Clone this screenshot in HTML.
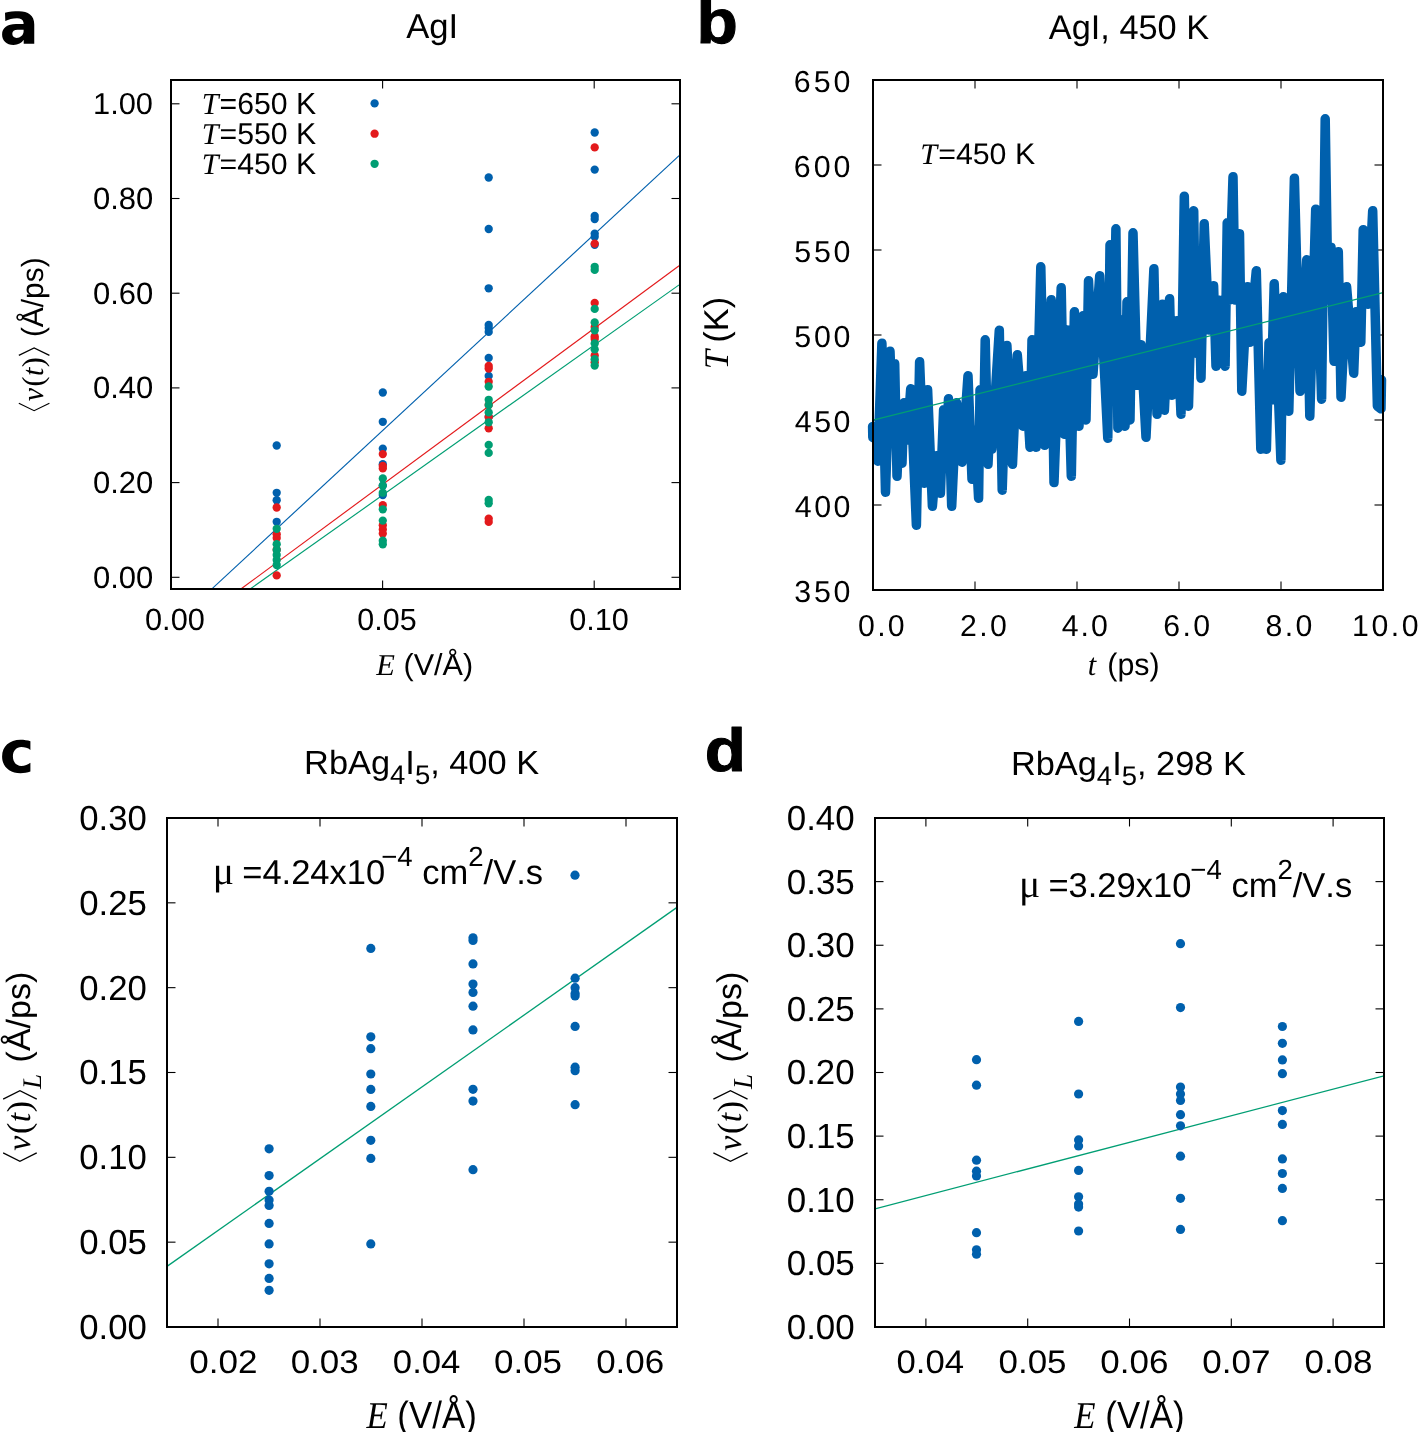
<!DOCTYPE html><html><head><meta charset="utf-8"><style>html,body{margin:0;padding:0;background:#fff;overflow:hidden}svg{display:block;will-change:transform}</style></head><body>
<svg width="1419" height="1432" viewBox="0 0 1419 1432" text-rendering="geometricPrecision">
<rect width="1419" height="1432" fill="#fff"/>
<path fill-rule="evenodd" fill="#000" d="M5.0,12.7 C9.0,11.7 14.0,11.3 19.0,11.3 C28.0,11.3 34.25,15.5 34.25,24.5 L34.25,43.8 L23.7,43.8 L23.7,39.7 C21.8,42.9 18.0,44.9 13.5,44.9 C6.5,44.9 2.1,40.8 2.1,34.5 C2.1,27.8 7.5,24.0 16.0,24.0 L23.6,23.9 L23.5,22.5 C23.0,19.5 20.5,18.3 17.0,18.3 C12.5,18.3 8.5,19.5 5.3,21.0 Z M23.6,29.8 L17.5,29.8 C14.3,29.8 12.3,31.3 12.3,33.8 C12.3,36.3 14.1,37.9 16.6,37.9 C20.2,37.9 23.5,35.2 23.6,31.5 Z"/>
<path fill="#000" d="M30.4,741.3 C27.5,740.3 24.0,739.8 20.5,739.8 C9.5,739.8 2.1,746.5 2.1,756.5 C2.1,766.5 9.5,773.2 20.5,773.2 C24.0,773.2 27.5,772.6 30.4,771.6 L30.4,762.8 C28.0,764.8 24.8,765.9 21.3,765.9 C16.3,765.9 12.9,762.0 12.9,756.5 C12.9,751.0 16.3,747.1 21.3,747.1 C24.8,747.1 28.0,748.1 30.4,749.9 Z"/>
<g transform="translate(704.83,771.21) scale(1.1245,1.0122)" fill="#000" stroke="#000" stroke-width="1.0" stroke-linejoin="round"><text x="0.00" y="0.00" style="white-space:pre;font-family:'Liberation Sans',sans-serif;font-style:normal;font-weight:bold;font-size:60.00px;font-kerning:none">d</text></g>
<g transform="translate(696.54,43.09) scale(1.1279,1.0372)" fill="#000" stroke="#000" stroke-width="1.0" stroke-linejoin="round"><text x="0.00" y="0.00" style="white-space:pre;font-family:'Liberation Sans',sans-serif;font-style:normal;font-weight:bold;font-size:60.00px;font-kerning:none">b</text></g>
<clipPath id="ca"><rect x="171" y="80" width="509" height="509"/></clipPath>
<g clip-path="url(#ca)">
<line x1="211.90" y1="588.80" x2="679.10" y2="155.70" stroke="#0060ad" stroke-width="1.15"/>
<line x1="241.20" y1="588.80" x2="679.10" y2="265.80" stroke="#e31a1c" stroke-width="1.15"/>
<line x1="250.50" y1="588.80" x2="679.10" y2="284.90" stroke="#009e73" stroke-width="1.15"/>
</g>
<circle cx="276.7" cy="445.5" r="4.15" fill="#0060ad"/>
<circle cx="276.7" cy="492.8" r="4.15" fill="#0060ad"/>
<circle cx="276.7" cy="500.2" r="4.15" fill="#0060ad"/>
<circle cx="276.7" cy="521.8" r="4.15" fill="#0060ad"/>
<circle cx="382.8" cy="392.5" r="4.15" fill="#0060ad"/>
<circle cx="382.8" cy="421.8" r="4.15" fill="#0060ad"/>
<circle cx="382.8" cy="448.6" r="4.15" fill="#0060ad"/>
<circle cx="382.8" cy="464.2" r="4.15" fill="#0060ad"/>
<circle cx="382.8" cy="485.6" r="4.15" fill="#0060ad"/>
<circle cx="382.8" cy="495.0" r="4.15" fill="#0060ad"/>
<circle cx="488.7" cy="177.5" r="4.15" fill="#0060ad"/>
<circle cx="488.7" cy="229.0" r="4.15" fill="#0060ad"/>
<circle cx="488.7" cy="288.3" r="4.15" fill="#0060ad"/>
<circle cx="488.7" cy="325.0" r="4.15" fill="#0060ad"/>
<circle cx="488.7" cy="328.1" r="4.15" fill="#0060ad"/>
<circle cx="488.7" cy="331.9" r="4.15" fill="#0060ad"/>
<circle cx="488.7" cy="357.9" r="4.15" fill="#0060ad"/>
<circle cx="488.7" cy="375.9" r="4.15" fill="#0060ad"/>
<circle cx="488.7" cy="417.0" r="4.15" fill="#0060ad"/>
<circle cx="594.7" cy="132.5" r="4.15" fill="#0060ad"/>
<circle cx="594.7" cy="169.6" r="4.15" fill="#0060ad"/>
<circle cx="594.7" cy="216.0" r="4.15" fill="#0060ad"/>
<circle cx="594.7" cy="219.1" r="4.15" fill="#0060ad"/>
<circle cx="594.7" cy="233.6" r="4.15" fill="#0060ad"/>
<circle cx="594.7" cy="236.7" r="4.15" fill="#0060ad"/>
<circle cx="594.7" cy="244.8" r="4.15" fill="#0060ad"/>
<circle cx="276.7" cy="507.5" r="4.15" fill="#e31a1c"/>
<circle cx="276.7" cy="534.3" r="4.15" fill="#e31a1c"/>
<circle cx="276.7" cy="538.0" r="4.15" fill="#e31a1c"/>
<circle cx="276.7" cy="549.7" r="4.15" fill="#e31a1c"/>
<circle cx="276.7" cy="575.4" r="4.15" fill="#e31a1c"/>
<circle cx="382.8" cy="454.1" r="4.15" fill="#e31a1c"/>
<circle cx="382.8" cy="466.0" r="4.15" fill="#e31a1c"/>
<circle cx="382.8" cy="468.4" r="4.15" fill="#e31a1c"/>
<circle cx="382.8" cy="505.1" r="4.15" fill="#e31a1c"/>
<circle cx="382.8" cy="525.3" r="4.15" fill="#e31a1c"/>
<circle cx="382.8" cy="529.5" r="4.15" fill="#e31a1c"/>
<circle cx="382.8" cy="533.6" r="4.15" fill="#e31a1c"/>
<circle cx="488.7" cy="365.9" r="4.15" fill="#e31a1c"/>
<circle cx="488.7" cy="368.6" r="4.15" fill="#e31a1c"/>
<circle cx="488.7" cy="381.8" r="4.15" fill="#e31a1c"/>
<circle cx="488.7" cy="405.0" r="4.15" fill="#e31a1c"/>
<circle cx="488.7" cy="417.0" r="4.15" fill="#e31a1c"/>
<circle cx="488.7" cy="428.3" r="4.15" fill="#e31a1c"/>
<circle cx="488.7" cy="518.6" r="4.15" fill="#e31a1c"/>
<circle cx="488.7" cy="521.9" r="4.15" fill="#e31a1c"/>
<circle cx="594.7" cy="147.4" r="4.15" fill="#e31a1c"/>
<circle cx="594.7" cy="243.6" r="4.15" fill="#e31a1c"/>
<circle cx="594.7" cy="302.9" r="4.15" fill="#e31a1c"/>
<circle cx="594.7" cy="327.1" r="4.15" fill="#e31a1c"/>
<circle cx="594.7" cy="336.5" r="4.15" fill="#e31a1c"/>
<circle cx="594.7" cy="339.0" r="4.15" fill="#e31a1c"/>
<circle cx="594.7" cy="355.4" r="4.15" fill="#e31a1c"/>
<circle cx="594.7" cy="362.3" r="4.15" fill="#e31a1c"/>
<circle cx="276.7" cy="528.8" r="4.15" fill="#009e73"/>
<circle cx="276.7" cy="544.2" r="4.15" fill="#009e73"/>
<circle cx="276.7" cy="550.0" r="4.15" fill="#009e73"/>
<circle cx="276.7" cy="555.0" r="4.15" fill="#009e73"/>
<circle cx="276.7" cy="560.0" r="4.15" fill="#009e73"/>
<circle cx="276.7" cy="565.0" r="4.15" fill="#009e73"/>
<circle cx="382.8" cy="478.5" r="4.15" fill="#009e73"/>
<circle cx="382.8" cy="485.6" r="4.15" fill="#009e73"/>
<circle cx="382.8" cy="492.7" r="4.15" fill="#009e73"/>
<circle cx="382.8" cy="509.3" r="4.15" fill="#009e73"/>
<circle cx="382.8" cy="520.6" r="4.15" fill="#009e73"/>
<circle cx="382.8" cy="540.7" r="4.15" fill="#009e73"/>
<circle cx="382.8" cy="544.3" r="4.15" fill="#009e73"/>
<circle cx="488.7" cy="386.5" r="4.15" fill="#009e73"/>
<circle cx="488.7" cy="399.8" r="4.15" fill="#009e73"/>
<circle cx="488.7" cy="405.1" r="4.15" fill="#009e73"/>
<circle cx="488.7" cy="412.4" r="4.15" fill="#009e73"/>
<circle cx="488.7" cy="422.3" r="4.15" fill="#009e73"/>
<circle cx="488.7" cy="444.9" r="4.15" fill="#009e73"/>
<circle cx="488.7" cy="452.9" r="4.15" fill="#009e73"/>
<circle cx="488.7" cy="500.0" r="4.15" fill="#009e73"/>
<circle cx="488.7" cy="503.3" r="4.15" fill="#009e73"/>
<circle cx="594.7" cy="266.8" r="4.15" fill="#009e73"/>
<circle cx="594.7" cy="269.9" r="4.15" fill="#009e73"/>
<circle cx="594.7" cy="308.9" r="4.15" fill="#009e73"/>
<circle cx="594.7" cy="322.4" r="4.15" fill="#009e73"/>
<circle cx="594.7" cy="330.3" r="4.15" fill="#009e73"/>
<circle cx="594.7" cy="343.5" r="4.15" fill="#009e73"/>
<circle cx="594.7" cy="349.4" r="4.15" fill="#009e73"/>
<circle cx="594.7" cy="359.2" r="4.15" fill="#009e73"/>
<circle cx="594.7" cy="365.5" r="4.15" fill="#009e73"/>
<circle cx="374.6" cy="103.4" r="4.15" fill="#0060ad"/>
<circle cx="374.6" cy="133.7" r="4.15" fill="#e31a1c"/>
<circle cx="374.6" cy="163.8" r="4.15" fill="#009e73"/>
<rect x="171" y="80" width="509" height="509" fill="none" stroke="#000" stroke-width="2"/>
<line x1="171.00" y1="577.30" x2="179.50" y2="577.30" stroke="#000" stroke-width="1.1"/>
<line x1="671.50" y1="577.30" x2="680.00" y2="577.30" stroke="#000" stroke-width="1.1"/>
<line x1="171.00" y1="482.60" x2="179.50" y2="482.60" stroke="#000" stroke-width="1.1"/>
<line x1="671.50" y1="482.60" x2="680.00" y2="482.60" stroke="#000" stroke-width="1.1"/>
<line x1="171.00" y1="387.90" x2="179.50" y2="387.90" stroke="#000" stroke-width="1.1"/>
<line x1="671.50" y1="387.90" x2="680.00" y2="387.90" stroke="#000" stroke-width="1.1"/>
<line x1="171.00" y1="293.20" x2="179.50" y2="293.20" stroke="#000" stroke-width="1.1"/>
<line x1="671.50" y1="293.20" x2="680.00" y2="293.20" stroke="#000" stroke-width="1.1"/>
<line x1="171.00" y1="198.50" x2="179.50" y2="198.50" stroke="#000" stroke-width="1.1"/>
<line x1="671.50" y1="198.50" x2="680.00" y2="198.50" stroke="#000" stroke-width="1.1"/>
<line x1="171.00" y1="103.80" x2="179.50" y2="103.80" stroke="#000" stroke-width="1.1"/>
<line x1="671.50" y1="103.80" x2="680.00" y2="103.80" stroke="#000" stroke-width="1.1"/>
<line x1="382.60" y1="589.00" x2="382.60" y2="580.50" stroke="#000" stroke-width="1.1"/>
<line x1="382.60" y1="80.00" x2="382.60" y2="88.50" stroke="#000" stroke-width="1.1"/>
<line x1="594.20" y1="589.00" x2="594.20" y2="580.50" stroke="#000" stroke-width="1.1"/>
<line x1="594.20" y1="80.00" x2="594.20" y2="88.50" stroke="#000" stroke-width="1.1"/>
<g transform="translate(92.89,208.80) scale(1.0331,1.0264)" fill="#000" ><text x="0.00" y="0.00" style="white-space:pre;font-family:'Liberation Sans',sans-serif;font-style:normal;font-weight:normal;font-size:30.00px;font-kerning:none">0.80</text></g>
<g transform="translate(92.89,303.50) scale(1.0331,1.0264)" fill="#000" ><text x="0.00" y="0.00" style="white-space:pre;font-family:'Liberation Sans',sans-serif;font-style:normal;font-weight:normal;font-size:30.00px;font-kerning:none">0.60</text></g>
<g transform="translate(92.89,398.20) scale(1.0331,1.0264)" fill="#000" ><text x="0.00" y="0.00" style="white-space:pre;font-family:'Liberation Sans',sans-serif;font-style:normal;font-weight:normal;font-size:30.00px;font-kerning:none">0.40</text></g>
<g transform="translate(92.89,492.90) scale(1.0331,1.0264)" fill="#000" ><text x="0.00" y="0.00" style="white-space:pre;font-family:'Liberation Sans',sans-serif;font-style:normal;font-weight:normal;font-size:30.00px;font-kerning:none">0.20</text></g>
<g transform="translate(92.89,587.60) scale(1.0331,1.0264)" fill="#000" ><text x="0.00" y="0.00" style="white-space:pre;font-family:'Liberation Sans',sans-serif;font-style:normal;font-weight:normal;font-size:30.00px;font-kerning:none">0.00</text></g>
<g transform="translate(93.05,114.00) scale(1.0267,1.0075)" fill="#000" ><text x="0.00" y="0.00" style="white-space:pre;font-family:'Liberation Sans',sans-serif;font-style:normal;font-weight:normal;font-size:30.00px;font-kerning:none">1.00</text></g>
<g transform="translate(145.00,629.70) scale(1.0242,1.0216)" fill="#000" ><text x="0.00" y="0.00" style="white-space:pre;font-family:'Liberation Sans',sans-serif;font-style:normal;font-weight:normal;font-size:30.00px;font-kerning:none">0.00</text></g>
<g transform="translate(357.31,629.70) scale(1.0151,1.0216)" fill="#000" ><text x="0.00" y="0.00" style="white-space:pre;font-family:'Liberation Sans',sans-serif;font-style:normal;font-weight:normal;font-size:30.00px;font-kerning:none">0.05</text></g>
<g transform="translate(569.20,629.70) scale(1.0206,1.0216)" fill="#000" ><text x="0.00" y="0.00" style="white-space:pre;font-family:'Liberation Sans',sans-serif;font-style:normal;font-weight:normal;font-size:30.00px;font-kerning:none">0.10</text></g>
<g transform="translate(406.23,38.12) scale(1.0491,1.0490)" fill="#000" ><text x="0.00" y="0.00" style="white-space:pre;font-family:'Liberation Sans',sans-serif;font-style:normal;font-weight:normal;font-size:33.00px;font-kerning:none">AgI</text></g>
<g transform="translate(201.72,113.60) scale(1.0081,1.0169)" fill="#000" ><text x="0.00" y="0.00" style="white-space:pre;font-family:'Liberation Serif',serif;font-style:italic;font-weight:normal;font-size:30.00px;font-kerning:none">T</text><text x="17.68" y="0.00" style="white-space:pre;font-family:'Liberation Sans',sans-serif;font-style:normal;font-weight:normal;font-size:30.00px;font-kerning:none">=650 K</text></g>
<g transform="translate(201.72,143.80) scale(1.0081,1.0122)" fill="#000" ><text x="0.00" y="0.00" style="white-space:pre;font-family:'Liberation Serif',serif;font-style:italic;font-weight:normal;font-size:30.00px;font-kerning:none">T</text><text x="17.68" y="0.00" style="white-space:pre;font-family:'Liberation Sans',sans-serif;font-style:normal;font-weight:normal;font-size:30.00px;font-kerning:none">=550 K</text></g>
<g transform="translate(201.72,174.01) scale(1.0081,0.9887)" fill="#000" ><text x="0.00" y="0.00" style="white-space:pre;font-family:'Liberation Serif',serif;font-style:italic;font-weight:normal;font-size:30.00px;font-kerning:none">T</text><text x="17.68" y="0.00" style="white-space:pre;font-family:'Liberation Sans',sans-serif;font-style:normal;font-weight:normal;font-size:30.00px;font-kerning:none">=450 K</text></g>
<g transform="translate(376.36,675.25) scale(1.0183,1.0066)" fill="#000" ><text x="0.00" y="0.00" style="white-space:pre;font-family:'Liberation Serif',serif;font-style:italic;font-weight:normal;font-size:30.00px;font-kerning:none">E</text><text x="18.33" y="0.00" style="white-space:pre;font-family:'Liberation Sans',sans-serif;font-style:normal;font-weight:normal;font-size:30.00px;font-kerning:none"> (V/Å)</text></g>
<g transform="translate(43.29,411.10) rotate(-90) scale(0.9966,1.0195)" fill="#000" ><path transform="translate(0.00,0)" d="M7.80,-24.00 L0.4,-9.00 L7.80,6.00" fill="none" stroke="#000" stroke-width="1.20"/><text x="9.90" y="0.00" style="white-space:pre;font-family:'Liberation Serif',serif;font-style:italic;font-weight:normal;font-size:30.00px;font-kerning:none">v</text><text x="24.72" y="0.00" style="white-space:pre;font-family:'Liberation Serif',serif;font-style:normal;font-weight:normal;font-size:30.00px;font-kerning:none">(</text><text x="35.21" y="0.00" style="white-space:pre;font-family:'Liberation Serif',serif;font-style:italic;font-weight:normal;font-size:30.00px;font-kerning:none">t</text><text x="44.04" y="0.00" style="white-space:pre;font-family:'Liberation Serif',serif;font-style:normal;font-weight:normal;font-size:30.00px;font-kerning:none">)</text><path transform="translate(55.53,0)" d="M0.4,-24.00 L7.80,-9.00 L0.4,6.00" fill="none" stroke="#000" stroke-width="1.20"/><text x="65.93" y="0.00" style="white-space:pre;font-family:'Liberation Sans',sans-serif;font-style:normal;font-weight:normal;font-size:30.00px;font-kerning:none"> (Å/ps)</text></g>
<g transform="translate(793.86,91.70) scale(1.0122,1.0122)" fill="#000" ><text x="0.00" y="0.00" style="white-space:pre;font-family:'Liberation Sans',sans-serif;font-style:normal;font-weight:normal;font-size:30.00px;font-kerning:none;letter-spacing:2.945px">650</text></g>
<g transform="translate(793.86,176.70) scale(1.0122,1.0122)" fill="#000" ><text x="0.00" y="0.00" style="white-space:pre;font-family:'Liberation Sans',sans-serif;font-style:normal;font-weight:normal;font-size:30.00px;font-kerning:none;letter-spacing:2.945px">600</text></g>
<g transform="translate(794.18,261.70) scale(1.0122,1.0122)" fill="#000" ><text x="0.00" y="0.00" style="white-space:pre;font-family:'Liberation Sans',sans-serif;font-style:normal;font-weight:normal;font-size:30.00px;font-kerning:none;letter-spacing:2.784px">550</text></g>
<g transform="translate(794.18,346.70) scale(1.0122,1.0122)" fill="#000" ><text x="0.00" y="0.00" style="white-space:pre;font-family:'Liberation Sans',sans-serif;font-style:normal;font-weight:normal;font-size:30.00px;font-kerning:none;letter-spacing:2.784px">500</text></g>
<g transform="translate(794.70,431.70) scale(1.0122,1.0122)" fill="#000" ><text x="0.00" y="0.00" style="white-space:pre;font-family:'Liberation Sans',sans-serif;font-style:normal;font-weight:normal;font-size:30.00px;font-kerning:none;letter-spacing:2.528px">450</text></g>
<g transform="translate(794.70,516.70) scale(1.0122,1.0122)" fill="#000" ><text x="0.00" y="0.00" style="white-space:pre;font-family:'Liberation Sans',sans-serif;font-style:normal;font-weight:normal;font-size:30.00px;font-kerning:none;letter-spacing:2.528px">400</text></g>
<g transform="translate(794.24,601.70) scale(1.0122,1.0122)" fill="#000" ><text x="0.00" y="0.00" style="white-space:pre;font-family:'Liberation Sans',sans-serif;font-style:normal;font-weight:normal;font-size:30.00px;font-kerning:none;letter-spacing:2.755px">350</text></g>
<g transform="translate(858.12,635.70) scale(1.0075,1.0075)" fill="#000" ><text x="0.00" y="0.00" style="white-space:pre;font-family:'Liberation Sans',sans-serif;font-style:normal;font-weight:normal;font-size:30.00px;font-kerning:none;letter-spacing:2.255px">0.0</text></g>
<g transform="translate(959.88,635.70) scale(1.0075,1.0075)" fill="#000" ><text x="0.00" y="0.00" style="white-space:pre;font-family:'Liberation Sans',sans-serif;font-style:normal;font-weight:normal;font-size:30.00px;font-kerning:none;letter-spacing:2.423px">2.0</text></g>
<g transform="translate(1061.71,635.70) scale(1.0075,1.0075)" fill="#000" ><text x="0.00" y="0.00" style="white-space:pre;font-family:'Liberation Sans',sans-serif;font-style:normal;font-weight:normal;font-size:30.00px;font-kerning:none;letter-spacing:2.013px">4.0</text></g>
<g transform="translate(1163.17,635.70) scale(1.0075,1.0075)" fill="#000" ><text x="0.00" y="0.00" style="white-space:pre;font-family:'Liberation Sans',sans-serif;font-style:normal;font-weight:normal;font-size:30.00px;font-kerning:none;letter-spacing:2.431px">6.0</text></g>
<g transform="translate(1265.59,635.70) scale(1.0075,1.0075)" fill="#000" ><text x="0.00" y="0.00" style="white-space:pre;font-family:'Liberation Sans',sans-serif;font-style:normal;font-weight:normal;font-size:30.00px;font-kerning:none;letter-spacing:2.321px">8.0</text></g>
<g transform="translate(1352.10,635.70) scale(1.0075,1.0075)" fill="#000" ><text x="0.00" y="0.00" style="white-space:pre;font-family:'Liberation Sans',sans-serif;font-style:normal;font-weight:normal;font-size:30.00px;font-kerning:none;letter-spacing:2.533px">10.0</text></g>
<g transform="translate(1048.83,39.07) scale(1.0399,1.0405)" fill="#000" ><text x="0.00" y="0.00" style="white-space:pre;font-family:'Liberation Sans',sans-serif;font-style:normal;font-weight:normal;font-size:33.00px;font-kerning:none">AgI, 450 K</text></g>
<g transform="translate(1087.87,675.47) scale(1.0125,1.0335)" fill="#000" ><text x="0.00" y="0.00" style="white-space:pre;font-family:'Liberation Serif',serif;font-style:italic;font-weight:normal;font-size:30.00px;font-kerning:none">t</text><text x="10.83" y="0.00" style="white-space:pre;font-family:'Liberation Sans',sans-serif;font-style:normal;font-weight:normal;font-size:30.00px;font-kerning:none"> (ps)</text></g>
<g transform="translate(727.67,369.16) rotate(-90) scale(1.1489,1.1485)" fill="#000" ><text x="0.00" y="0.00" style="white-space:pre;font-family:'Liberation Serif',serif;font-style:italic;font-weight:normal;font-size:30.00px;font-kerning:none">T</text><text x="14.68" y="0.00" style="white-space:pre;font-family:'Liberation Sans',sans-serif;font-style:normal;font-weight:normal;font-size:30.00px;font-kerning:none"> (K)</text></g>
<g transform="translate(920.32,163.61) scale(1.0108,0.9887)" fill="#000" ><text x="0.00" y="0.00" style="white-space:pre;font-family:'Liberation Serif',serif;font-style:italic;font-weight:normal;font-size:30.00px;font-kerning:none">T</text><text x="17.68" y="0.00" style="white-space:pre;font-family:'Liberation Sans',sans-serif;font-style:normal;font-weight:normal;font-size:30.00px;font-kerning:none">=450 K</text></g>
<line x1="873.00" y1="505.00" x2="881.50" y2="505.00" stroke="#000" stroke-width="1.1"/>
<line x1="1374.50" y1="505.00" x2="1383.00" y2="505.00" stroke="#000" stroke-width="1.1"/>
<line x1="873.00" y1="420.00" x2="881.50" y2="420.00" stroke="#000" stroke-width="1.1"/>
<line x1="1374.50" y1="420.00" x2="1383.00" y2="420.00" stroke="#000" stroke-width="1.1"/>
<line x1="873.00" y1="335.00" x2="881.50" y2="335.00" stroke="#000" stroke-width="1.1"/>
<line x1="1374.50" y1="335.00" x2="1383.00" y2="335.00" stroke="#000" stroke-width="1.1"/>
<line x1="873.00" y1="250.00" x2="881.50" y2="250.00" stroke="#000" stroke-width="1.1"/>
<line x1="1374.50" y1="250.00" x2="1383.00" y2="250.00" stroke="#000" stroke-width="1.1"/>
<line x1="873.00" y1="165.00" x2="881.50" y2="165.00" stroke="#000" stroke-width="1.1"/>
<line x1="1374.50" y1="165.00" x2="1383.00" y2="165.00" stroke="#000" stroke-width="1.1"/>
<line x1="975.00" y1="590.00" x2="975.00" y2="581.50" stroke="#000" stroke-width="1.1"/>
<line x1="975.00" y1="80.00" x2="975.00" y2="88.50" stroke="#000" stroke-width="1.1"/>
<line x1="1077.00" y1="590.00" x2="1077.00" y2="581.50" stroke="#000" stroke-width="1.1"/>
<line x1="1077.00" y1="80.00" x2="1077.00" y2="88.50" stroke="#000" stroke-width="1.1"/>
<line x1="1179.00" y1="590.00" x2="1179.00" y2="581.50" stroke="#000" stroke-width="1.1"/>
<line x1="1179.00" y1="80.00" x2="1179.00" y2="88.50" stroke="#000" stroke-width="1.1"/>
<line x1="1281.00" y1="590.00" x2="1281.00" y2="581.50" stroke="#000" stroke-width="1.1"/>
<line x1="1281.00" y1="80.00" x2="1281.00" y2="88.50" stroke="#000" stroke-width="1.1"/>
<path d="M872.6,426.5 L872.8,437.3 L877.5,440.0 L877.8,461.2 L881.9,343.2 L885.5,492.2 L890.0,351.2 L892.5,420.0 L894.7,363.8 L897.0,476.2 L899.5,420.0 L902.0,463.2 L904.0,402.8 L907.0,440.0 L910.7,388.8 L916.4,525.2 L919.6,361.8 L924.4,483.2 L927.6,389.8 L932.4,506.2 L936.5,455.8 L940.4,493.2 L943.6,409.8 L946.0,455.0 L948.5,398.8 L951.7,506.2 L956.5,402.8 L962.0,462.2 L968.0,375.8 L972.0,479.2 L975.0,430.0 L978.6,498.2 L980.0,389.8 L983.0,460.0 L985.2,339.8 L988.0,464.2 L990.0,420.0 L991.8,449.2 L999.3,330.2 L1002.2,490.2 L1006.9,345.4 L1012.5,464.2 L1017.3,354.8 L1022.9,426.2 L1025.8,375.8 L1030.0,447.2 L1032.0,339.8 L1036.1,447.2 L1040.8,266.8 L1044.6,445.2 L1051.2,299.8 L1054.0,482.6 L1061.2,287.8 L1064.0,434.2 L1067.0,330.0 L1071.3,476.2 L1074.4,311.8 L1079.0,426.2 L1083.0,315.8 L1086.0,420.0 L1088.5,280.8 L1093.0,374.2 L1099.7,275.8 L1107.8,438.2 L1110.0,244.8 L1113.0,400.0 L1115.9,228.8 L1117.9,428.2 L1122.0,320.0 L1125.0,426.2 L1127.0,301.8 L1130.0,420.0 L1133.0,232.8 L1137.0,385.2 L1141.0,344.8 L1146.0,437.2 L1153.9,268.8 L1157.0,414.2 L1162.3,304.2 L1164.4,410.2 L1169.6,298.8 L1172.0,395.2 L1176.9,320.8 L1181.0,414.2 L1184.3,196.2 L1188.5,406.2 L1193.7,210.8 L1195.8,353.2 L1199.0,300.0 L1201.0,378.2 L1204.2,223.8 L1209.0,330.0 L1213.6,285.8 L1216.0,366.2 L1218.0,300.0 L1221.0,359.8 L1223.0,300.0 L1225.1,366.2 L1227.2,222.8 L1229.0,300.0 L1233.0,176.8 L1235.0,300.0 L1239.5,233.8 L1241.8,391.2 L1247.4,286.8 L1249.6,342.2 L1256.3,270.8 L1260.8,449.2 L1263.0,380.0 L1266.4,449.2 L1269.0,342.8 L1271.0,400.0 L1274.2,283.8 L1280.9,460.2 L1283.2,296.8 L1288.8,411.2 L1294.4,178.2 L1300.0,391.2 L1306.7,259.8 L1309.8,416.2 L1315.7,209.2 L1321.6,399.2 L1325.2,118.8 L1328.0,300.0 L1331.0,247.2 L1334.0,361.2 L1338.3,251.8 L1341.0,397.2 L1346.6,286.8 L1353.7,373.2 L1356.0,311.8 L1360.8,342.2 L1363.2,229.8 L1368.0,304.2 L1372.7,210.8 L1377.4,406.2 L1381.0,408.8 L1381.5,379.8" fill="none" stroke="#0060ad" stroke-width="9.5" stroke-linejoin="round" stroke-linecap="round"/>
<line x1="873.00" y1="420.20" x2="1383.00" y2="292.70" stroke="#009e73" stroke-width="1.3"/>
<rect x="873" y="80" width="510" height="510" fill="none" stroke="#000" stroke-width="2"/>
<clipPath id="cc"><rect x="167" y="818" width="510" height="509"/></clipPath>
<g clip-path="url(#cc)">
<line x1="167.00" y1="1266.40" x2="677.00" y2="907.40" stroke="#009e73" stroke-width="1.3"/>
</g>
<circle cx="269.1" cy="1148.8" r="4.6" fill="#0060ad"/>
<circle cx="269.1" cy="1175.6" r="4.6" fill="#0060ad"/>
<circle cx="269.1" cy="1191.3" r="4.6" fill="#0060ad"/>
<circle cx="269.1" cy="1200.0" r="4.6" fill="#0060ad"/>
<circle cx="269.1" cy="1205.4" r="4.6" fill="#0060ad"/>
<circle cx="269.1" cy="1223.4" r="4.6" fill="#0060ad"/>
<circle cx="269.1" cy="1243.9" r="4.6" fill="#0060ad"/>
<circle cx="269.1" cy="1263.8" r="4.6" fill="#0060ad"/>
<circle cx="269.1" cy="1278.4" r="4.6" fill="#0060ad"/>
<circle cx="269.1" cy="1290.3" r="4.6" fill="#0060ad"/>
<circle cx="370.8" cy="948.4" r="4.6" fill="#0060ad"/>
<circle cx="370.8" cy="1036.8" r="4.6" fill="#0060ad"/>
<circle cx="370.8" cy="1048.7" r="4.6" fill="#0060ad"/>
<circle cx="370.8" cy="1074.0" r="4.6" fill="#0060ad"/>
<circle cx="370.8" cy="1089.4" r="4.6" fill="#0060ad"/>
<circle cx="370.8" cy="1106.4" r="4.6" fill="#0060ad"/>
<circle cx="370.8" cy="1140.3" r="4.6" fill="#0060ad"/>
<circle cx="370.8" cy="1158.4" r="4.6" fill="#0060ad"/>
<circle cx="370.8" cy="1243.9" r="4.6" fill="#0060ad"/>
<circle cx="473.0" cy="937.8" r="4.6" fill="#0060ad"/>
<circle cx="473.0" cy="940.5" r="4.6" fill="#0060ad"/>
<circle cx="473.0" cy="963.9" r="4.6" fill="#0060ad"/>
<circle cx="473.0" cy="984.1" r="4.6" fill="#0060ad"/>
<circle cx="473.0" cy="992.4" r="4.6" fill="#0060ad"/>
<circle cx="473.0" cy="1006.2" r="4.6" fill="#0060ad"/>
<circle cx="473.0" cy="1029.9" r="4.6" fill="#0060ad"/>
<circle cx="473.0" cy="1089.3" r="4.6" fill="#0060ad"/>
<circle cx="473.0" cy="1101.1" r="4.6" fill="#0060ad"/>
<circle cx="473.0" cy="1169.7" r="4.6" fill="#0060ad"/>
<circle cx="575.1" cy="978.2" r="4.6" fill="#0060ad"/>
<circle cx="575.1" cy="987.7" r="4.6" fill="#0060ad"/>
<circle cx="575.1" cy="993.6" r="4.6" fill="#0060ad"/>
<circle cx="575.1" cy="996.0" r="4.6" fill="#0060ad"/>
<circle cx="575.1" cy="1026.4" r="4.6" fill="#0060ad"/>
<circle cx="575.1" cy="1067.2" r="4.6" fill="#0060ad"/>
<circle cx="575.1" cy="1070.7" r="4.6" fill="#0060ad"/>
<circle cx="575.1" cy="1104.7" r="4.6" fill="#0060ad"/>
<circle cx="575.0" cy="875.2" r="4.6" fill="#0060ad"/>
<rect x="167" y="818" width="510" height="509" fill="none" stroke="#000" stroke-width="2"/>
<line x1="167.00" y1="1242.16" x2="175.50" y2="1242.16" stroke="#000" stroke-width="1.1"/>
<line x1="668.50" y1="1242.16" x2="677.00" y2="1242.16" stroke="#000" stroke-width="1.1"/>
<line x1="167.00" y1="1157.33" x2="175.50" y2="1157.33" stroke="#000" stroke-width="1.1"/>
<line x1="668.50" y1="1157.33" x2="677.00" y2="1157.33" stroke="#000" stroke-width="1.1"/>
<line x1="167.00" y1="1072.49" x2="175.50" y2="1072.49" stroke="#000" stroke-width="1.1"/>
<line x1="668.50" y1="1072.49" x2="677.00" y2="1072.49" stroke="#000" stroke-width="1.1"/>
<line x1="167.00" y1="987.66" x2="175.50" y2="987.66" stroke="#000" stroke-width="1.1"/>
<line x1="668.50" y1="987.66" x2="677.00" y2="987.66" stroke="#000" stroke-width="1.1"/>
<line x1="167.00" y1="902.83" x2="175.50" y2="902.83" stroke="#000" stroke-width="1.1"/>
<line x1="668.50" y1="902.83" x2="677.00" y2="902.83" stroke="#000" stroke-width="1.1"/>
<line x1="218.00" y1="1327.00" x2="218.00" y2="1318.50" stroke="#000" stroke-width="1.1"/>
<line x1="218.00" y1="818.00" x2="218.00" y2="826.50" stroke="#000" stroke-width="1.1"/>
<line x1="320.00" y1="1327.00" x2="320.00" y2="1318.50" stroke="#000" stroke-width="1.1"/>
<line x1="320.00" y1="818.00" x2="320.00" y2="826.50" stroke="#000" stroke-width="1.1"/>
<line x1="422.00" y1="1327.00" x2="422.00" y2="1318.50" stroke="#000" stroke-width="1.1"/>
<line x1="422.00" y1="818.00" x2="422.00" y2="826.50" stroke="#000" stroke-width="1.1"/>
<line x1="524.00" y1="1327.00" x2="524.00" y2="1318.50" stroke="#000" stroke-width="1.1"/>
<line x1="524.00" y1="818.00" x2="524.00" y2="826.50" stroke="#000" stroke-width="1.1"/>
<line x1="626.00" y1="1327.00" x2="626.00" y2="1318.50" stroke="#000" stroke-width="1.1"/>
<line x1="626.00" y1="818.00" x2="626.00" y2="826.50" stroke="#000" stroke-width="1.1"/>
<g transform="translate(79.24,829.95) scale(1.0218,1.0219)" fill="#000" ><text x="0.00" y="0.00" style="white-space:pre;font-family:'Liberation Sans',sans-serif;font-style:normal;font-weight:normal;font-size:34.00px;font-kerning:none">0.30</text></g>
<g transform="translate(79.24,914.79) scale(1.0234,1.0219)" fill="#000" ><text x="0.00" y="0.00" style="white-space:pre;font-family:'Liberation Sans',sans-serif;font-style:normal;font-weight:normal;font-size:34.00px;font-kerning:none">0.25</text></g>
<g transform="translate(79.24,999.62) scale(1.0218,1.0219)" fill="#000" ><text x="0.00" y="0.00" style="white-space:pre;font-family:'Liberation Sans',sans-serif;font-style:normal;font-weight:normal;font-size:34.00px;font-kerning:none">0.20</text></g>
<g transform="translate(79.24,1084.46) scale(1.0234,1.0219)" fill="#000" ><text x="0.00" y="0.00" style="white-space:pre;font-family:'Liberation Sans',sans-serif;font-style:normal;font-weight:normal;font-size:34.00px;font-kerning:none">0.15</text></g>
<g transform="translate(79.24,1169.29) scale(1.0218,1.0219)" fill="#000" ><text x="0.00" y="0.00" style="white-space:pre;font-family:'Liberation Sans',sans-serif;font-style:normal;font-weight:normal;font-size:34.00px;font-kerning:none">0.10</text></g>
<g transform="translate(79.24,1254.13) scale(1.0234,1.0219)" fill="#000" ><text x="0.00" y="0.00" style="white-space:pre;font-family:'Liberation Sans',sans-serif;font-style:normal;font-weight:normal;font-size:34.00px;font-kerning:none">0.05</text></g>
<g transform="translate(79.24,1338.96) scale(1.0218,1.0219)" fill="#000" ><text x="0.00" y="0.00" style="white-space:pre;font-family:'Liberation Sans',sans-serif;font-style:normal;font-weight:normal;font-size:34.00px;font-kerning:none">0.00</text></g>
<g transform="translate(189.23,1373.38) scale(1.0327,0.9596)" fill="#000" ><text x="0.00" y="0.00" style="white-space:pre;font-family:'Liberation Sans',sans-serif;font-style:normal;font-weight:normal;font-size:34.00px;font-kerning:none">0.02</text></g>
<g transform="translate(290.63,1373.38) scale(1.0292,0.9596)" fill="#000" ><text x="0.00" y="0.00" style="white-space:pre;font-family:'Liberation Sans',sans-serif;font-style:normal;font-weight:normal;font-size:34.00px;font-kerning:none">0.03</text></g>
<g transform="translate(392.84,1373.38) scale(1.0211,0.9596)" fill="#000" ><text x="0.00" y="0.00" style="white-space:pre;font-family:'Liberation Sans',sans-serif;font-style:normal;font-weight:normal;font-size:34.00px;font-kerning:none">0.04</text></g>
<g transform="translate(494.03,1373.38) scale(1.0281,0.9596)" fill="#000" ><text x="0.00" y="0.00" style="white-space:pre;font-family:'Liberation Sans',sans-serif;font-style:normal;font-weight:normal;font-size:34.00px;font-kerning:none">0.05</text></g>
<g transform="translate(596.13,1373.38) scale(1.0292,0.9596)" fill="#000" ><text x="0.00" y="0.00" style="white-space:pre;font-family:'Liberation Sans',sans-serif;font-style:normal;font-weight:normal;font-size:34.00px;font-kerning:none">0.06</text></g>
<g transform="translate(304.08,774.00) scale(0.9990,0.9749)" fill="#000" ><text x="0.00" y="0.00" style="white-space:pre;font-family:'Liberation Sans',sans-serif;font-style:normal;font-weight:normal;font-size:34.40px;font-kerning:none">RbAg</text><text x="86.05" y="10.50" style="white-space:pre;font-family:'Liberation Sans',sans-serif;font-style:normal;font-weight:normal;font-size:27.52px;font-kerning:none">4</text><text x="101.36" y="0.00" style="white-space:pre;font-family:'Liberation Sans',sans-serif;font-style:normal;font-weight:normal;font-size:34.40px;font-kerning:none">I</text><text x="110.91" y="10.50" style="white-space:pre;font-family:'Liberation Sans',sans-serif;font-style:normal;font-weight:normal;font-size:27.52px;font-kerning:none">5</text><text x="126.22" y="0.00" style="white-space:pre;font-family:'Liberation Sans',sans-serif;font-style:normal;font-weight:normal;font-size:34.40px;font-kerning:none">, 400 K</text></g>
<g transform="translate(366.41,1428.16) scale(1.0403,1.1309)" fill="#000" ><text x="0.00" y="0.00" style="white-space:pre;font-family:'Liberation Serif',serif;font-style:italic;font-weight:normal;font-size:33.50px;font-kerning:none">E</text><text x="20.46" y="0.00" style="white-space:pre;font-family:'Liberation Sans',sans-serif;font-style:normal;font-weight:normal;font-size:33.50px;font-kerning:none"> (V/Å)</text></g>
<g transform="translate(30.01,1161.70) rotate(-90) scale(1.0292,1.0180)" fill="#000" ><path transform="translate(0.00,0)" d="M8.58,-26.40 L0.4,-9.90 L8.58,6.60" fill="none" stroke="#000" stroke-width="1.32"/><text x="10.68" y="0.00" style="white-space:pre;font-family:'Liberation Serif',serif;font-style:italic;font-weight:normal;font-size:33.00px;font-kerning:none">v</text><text x="26.83" y="0.00" style="white-space:pre;font-family:'Liberation Serif',serif;font-style:normal;font-weight:normal;font-size:33.00px;font-kerning:none">(</text><text x="38.32" y="0.00" style="white-space:pre;font-family:'Liberation Serif',serif;font-style:italic;font-weight:normal;font-size:33.00px;font-kerning:none">t</text><text x="47.98" y="0.00" style="white-space:pre;font-family:'Liberation Serif',serif;font-style:normal;font-weight:normal;font-size:33.00px;font-kerning:none">)</text><path transform="translate(60.47,0)" d="M0.4,-26.40 L8.58,-9.90 L0.4,6.60" fill="none" stroke="#000" stroke-width="1.32"/><text x="70.65" y="10.89" style="white-space:pre;font-family:'Liberation Serif',serif;font-style:italic;font-weight:normal;font-size:26.40px;font-kerning:none">L</text><text x="87.34" y="0.00" style="white-space:pre;font-family:'Liberation Sans',sans-serif;font-style:normal;font-weight:normal;font-size:33.00px;font-kerning:none"> (Å/ps)</text></g>
<g transform="translate(212.68,883.70)" fill="#000" ><text x="0.00" y="0.00" style="white-space:pre;font-family:'Liberation Serif',serif;font-style:normal;font-weight:normal;font-size:39.67px;font-kerning:none">μ</text><text x="19.97" y="0.00" style="white-space:pre;font-family:'Liberation Sans',sans-serif;font-style:normal;font-weight:normal;font-size:34.50px;font-kerning:none"> =4.24x10</text><text x="168.53" y="-17.50" style="white-space:pre;font-family:'Liberation Sans',sans-serif;font-style:normal;font-weight:normal;font-size:27.60px;font-kerning:none">−4</text><text x="199.99" y="0.00" style="white-space:pre;font-family:'Liberation Sans',sans-serif;font-style:normal;font-weight:normal;font-size:34.50px;font-kerning:none"> cm</text><text x="255.57" y="-17.50" style="white-space:pre;font-family:'Liberation Sans',sans-serif;font-style:normal;font-weight:normal;font-size:27.60px;font-kerning:none">2</text><text x="270.92" y="0.00" style="white-space:pre;font-family:'Liberation Sans',sans-serif;font-style:normal;font-weight:normal;font-size:34.50px;font-kerning:none">/V.s</text></g>
<clipPath id="cd"><rect x="875" y="818" width="509" height="509"/></clipPath>
<g clip-path="url(#cd)">
<line x1="875.00" y1="1208.80" x2="1384.00" y2="1075.80" stroke="#009e73" stroke-width="1.3"/>
</g>
<circle cx="976.5" cy="1059.7" r="4.6" fill="#0060ad"/>
<circle cx="976.5" cy="1085.2" r="4.6" fill="#0060ad"/>
<circle cx="976.5" cy="1160.2" r="4.6" fill="#0060ad"/>
<circle cx="976.5" cy="1171.2" r="4.6" fill="#0060ad"/>
<circle cx="976.5" cy="1176.0" r="4.6" fill="#0060ad"/>
<circle cx="976.5" cy="1232.7" r="4.6" fill="#0060ad"/>
<circle cx="976.5" cy="1249.8" r="4.6" fill="#0060ad"/>
<circle cx="976.5" cy="1254.2" r="4.6" fill="#0060ad"/>
<circle cx="1078.6" cy="1021.4" r="4.6" fill="#0060ad"/>
<circle cx="1078.6" cy="1094.0" r="4.6" fill="#0060ad"/>
<circle cx="1078.6" cy="1139.9" r="4.6" fill="#0060ad"/>
<circle cx="1078.6" cy="1146.0" r="4.6" fill="#0060ad"/>
<circle cx="1078.6" cy="1170.4" r="4.6" fill="#0060ad"/>
<circle cx="1078.6" cy="1196.8" r="4.6" fill="#0060ad"/>
<circle cx="1078.6" cy="1204.1" r="4.6" fill="#0060ad"/>
<circle cx="1078.6" cy="1207.1" r="4.6" fill="#0060ad"/>
<circle cx="1078.6" cy="1231.0" r="4.6" fill="#0060ad"/>
<circle cx="1180.5" cy="943.7" r="4.6" fill="#0060ad"/>
<circle cx="1180.5" cy="1007.6" r="4.6" fill="#0060ad"/>
<circle cx="1180.5" cy="1087.0" r="4.6" fill="#0060ad"/>
<circle cx="1180.5" cy="1094.0" r="4.6" fill="#0060ad"/>
<circle cx="1180.5" cy="1100.4" r="4.6" fill="#0060ad"/>
<circle cx="1180.5" cy="1114.7" r="4.6" fill="#0060ad"/>
<circle cx="1180.5" cy="1125.8" r="4.6" fill="#0060ad"/>
<circle cx="1180.5" cy="1156.2" r="4.6" fill="#0060ad"/>
<circle cx="1180.5" cy="1198.3" r="4.6" fill="#0060ad"/>
<circle cx="1180.5" cy="1229.4" r="4.6" fill="#0060ad"/>
<circle cx="1282.4" cy="1026.5" r="4.6" fill="#0060ad"/>
<circle cx="1282.4" cy="1043.3" r="4.6" fill="#0060ad"/>
<circle cx="1282.4" cy="1059.9" r="4.6" fill="#0060ad"/>
<circle cx="1282.4" cy="1073.7" r="4.6" fill="#0060ad"/>
<circle cx="1282.4" cy="1110.6" r="4.6" fill="#0060ad"/>
<circle cx="1282.4" cy="1124.4" r="4.6" fill="#0060ad"/>
<circle cx="1282.4" cy="1158.9" r="4.6" fill="#0060ad"/>
<circle cx="1282.4" cy="1173.5" r="4.6" fill="#0060ad"/>
<circle cx="1282.4" cy="1188.4" r="4.6" fill="#0060ad"/>
<circle cx="1282.4" cy="1220.7" r="4.6" fill="#0060ad"/>
<rect x="875" y="818" width="509" height="509" fill="none" stroke="#000" stroke-width="2"/>
<line x1="875.00" y1="1263.38" x2="883.50" y2="1263.38" stroke="#000" stroke-width="1.1"/>
<line x1="1375.50" y1="1263.38" x2="1384.00" y2="1263.38" stroke="#000" stroke-width="1.1"/>
<line x1="875.00" y1="1199.75" x2="883.50" y2="1199.75" stroke="#000" stroke-width="1.1"/>
<line x1="1375.50" y1="1199.75" x2="1384.00" y2="1199.75" stroke="#000" stroke-width="1.1"/>
<line x1="875.00" y1="1136.12" x2="883.50" y2="1136.12" stroke="#000" stroke-width="1.1"/>
<line x1="1375.50" y1="1136.12" x2="1384.00" y2="1136.12" stroke="#000" stroke-width="1.1"/>
<line x1="875.00" y1="1072.50" x2="883.50" y2="1072.50" stroke="#000" stroke-width="1.1"/>
<line x1="1375.50" y1="1072.50" x2="1384.00" y2="1072.50" stroke="#000" stroke-width="1.1"/>
<line x1="875.00" y1="1008.88" x2="883.50" y2="1008.88" stroke="#000" stroke-width="1.1"/>
<line x1="1375.50" y1="1008.88" x2="1384.00" y2="1008.88" stroke="#000" stroke-width="1.1"/>
<line x1="875.00" y1="945.25" x2="883.50" y2="945.25" stroke="#000" stroke-width="1.1"/>
<line x1="1375.50" y1="945.25" x2="1384.00" y2="945.25" stroke="#000" stroke-width="1.1"/>
<line x1="875.00" y1="881.62" x2="883.50" y2="881.62" stroke="#000" stroke-width="1.1"/>
<line x1="1375.50" y1="881.62" x2="1384.00" y2="881.62" stroke="#000" stroke-width="1.1"/>
<line x1="925.90" y1="1327.00" x2="925.90" y2="1318.50" stroke="#000" stroke-width="1.1"/>
<line x1="925.90" y1="818.00" x2="925.90" y2="826.50" stroke="#000" stroke-width="1.1"/>
<line x1="1027.70" y1="1327.00" x2="1027.70" y2="1318.50" stroke="#000" stroke-width="1.1"/>
<line x1="1027.70" y1="818.00" x2="1027.70" y2="826.50" stroke="#000" stroke-width="1.1"/>
<line x1="1129.50" y1="1327.00" x2="1129.50" y2="1318.50" stroke="#000" stroke-width="1.1"/>
<line x1="1129.50" y1="818.00" x2="1129.50" y2="826.50" stroke="#000" stroke-width="1.1"/>
<line x1="1231.30" y1="1327.00" x2="1231.30" y2="1318.50" stroke="#000" stroke-width="1.1"/>
<line x1="1231.30" y1="818.00" x2="1231.30" y2="826.50" stroke="#000" stroke-width="1.1"/>
<line x1="1333.10" y1="1327.00" x2="1333.10" y2="1318.50" stroke="#000" stroke-width="1.1"/>
<line x1="1333.10" y1="818.00" x2="1333.10" y2="826.50" stroke="#000" stroke-width="1.1"/>
<g transform="translate(786.74,829.96) scale(1.0265,1.0261)" fill="#000" ><text x="0.00" y="0.00" style="white-space:pre;font-family:'Liberation Sans',sans-serif;font-style:normal;font-weight:normal;font-size:34.00px;font-kerning:none">0.40</text></g>
<g transform="translate(786.73,893.58) scale(1.0281,1.0261)" fill="#000" ><text x="0.00" y="0.00" style="white-space:pre;font-family:'Liberation Sans',sans-serif;font-style:normal;font-weight:normal;font-size:34.00px;font-kerning:none">0.35</text></g>
<g transform="translate(786.74,957.21) scale(1.0265,1.0261)" fill="#000" ><text x="0.00" y="0.00" style="white-space:pre;font-family:'Liberation Sans',sans-serif;font-style:normal;font-weight:normal;font-size:34.00px;font-kerning:none">0.30</text></g>
<g transform="translate(786.73,1020.83) scale(1.0281,1.0261)" fill="#000" ><text x="0.00" y="0.00" style="white-space:pre;font-family:'Liberation Sans',sans-serif;font-style:normal;font-weight:normal;font-size:34.00px;font-kerning:none">0.25</text></g>
<g transform="translate(786.74,1084.46) scale(1.0265,1.0261)" fill="#000" ><text x="0.00" y="0.00" style="white-space:pre;font-family:'Liberation Sans',sans-serif;font-style:normal;font-weight:normal;font-size:34.00px;font-kerning:none">0.20</text></g>
<g transform="translate(786.73,1148.08) scale(1.0281,1.0261)" fill="#000" ><text x="0.00" y="0.00" style="white-space:pre;font-family:'Liberation Sans',sans-serif;font-style:normal;font-weight:normal;font-size:34.00px;font-kerning:none">0.15</text></g>
<g transform="translate(786.74,1211.71) scale(1.0265,1.0261)" fill="#000" ><text x="0.00" y="0.00" style="white-space:pre;font-family:'Liberation Sans',sans-serif;font-style:normal;font-weight:normal;font-size:34.00px;font-kerning:none">0.10</text></g>
<g transform="translate(786.73,1275.33) scale(1.0281,1.0261)" fill="#000" ><text x="0.00" y="0.00" style="white-space:pre;font-family:'Liberation Sans',sans-serif;font-style:normal;font-weight:normal;font-size:34.00px;font-kerning:none">0.05</text></g>
<g transform="translate(786.74,1338.96) scale(1.0265,1.0261)" fill="#000" ><text x="0.00" y="0.00" style="white-space:pre;font-family:'Liberation Sans',sans-serif;font-style:normal;font-weight:normal;font-size:34.00px;font-kerning:none">0.00</text></g>
<g transform="translate(896.54,1373.38) scale(1.0211,0.9596)" fill="#000" ><text x="0.00" y="0.00" style="white-space:pre;font-family:'Liberation Sans',sans-serif;font-style:normal;font-weight:normal;font-size:34.00px;font-kerning:none">0.04</text></g>
<g transform="translate(998.53,1373.38) scale(1.0281,0.9596)" fill="#000" ><text x="0.00" y="0.00" style="white-space:pre;font-family:'Liberation Sans',sans-serif;font-style:normal;font-weight:normal;font-size:34.00px;font-kerning:none">0.05</text></g>
<g transform="translate(1100.33,1373.38) scale(1.0292,0.9596)" fill="#000" ><text x="0.00" y="0.00" style="white-space:pre;font-family:'Liberation Sans',sans-serif;font-style:normal;font-weight:normal;font-size:34.00px;font-kerning:none">0.06</text></g>
<g transform="translate(1202.23,1373.38) scale(1.0327,0.9596)" fill="#000" ><text x="0.00" y="0.00" style="white-space:pre;font-family:'Liberation Sans',sans-serif;font-style:normal;font-weight:normal;font-size:34.00px;font-kerning:none">0.07</text></g>
<g transform="translate(1304.43,1373.38) scale(1.0289,0.9596)" fill="#000" ><text x="0.00" y="0.00" style="white-space:pre;font-family:'Liberation Sans',sans-serif;font-style:normal;font-weight:normal;font-size:34.00px;font-kerning:none">0.08</text></g>
<g transform="translate(1010.88,774.90) scale(0.9990,0.9749)" fill="#000" ><text x="0.00" y="0.00" style="white-space:pre;font-family:'Liberation Sans',sans-serif;font-style:normal;font-weight:normal;font-size:34.40px;font-kerning:none">RbAg</text><text x="86.05" y="10.50" style="white-space:pre;font-family:'Liberation Sans',sans-serif;font-style:normal;font-weight:normal;font-size:27.52px;font-kerning:none">4</text><text x="101.36" y="0.00" style="white-space:pre;font-family:'Liberation Sans',sans-serif;font-style:normal;font-weight:normal;font-size:34.40px;font-kerning:none">I</text><text x="110.91" y="10.50" style="white-space:pre;font-family:'Liberation Sans',sans-serif;font-style:normal;font-weight:normal;font-size:27.52px;font-kerning:none">5</text><text x="126.22" y="0.00" style="white-space:pre;font-family:'Liberation Sans',sans-serif;font-style:normal;font-weight:normal;font-size:34.40px;font-kerning:none">, 298 K</text></g>
<g transform="translate(1074.31,1428.16) scale(1.0403,1.1309)" fill="#000" ><text x="0.00" y="0.00" style="white-space:pre;font-family:'Liberation Serif',serif;font-style:italic;font-weight:normal;font-size:33.50px;font-kerning:none">E</text><text x="20.46" y="0.00" style="white-space:pre;font-family:'Liberation Sans',sans-serif;font-style:normal;font-weight:normal;font-size:33.50px;font-kerning:none"> (V/Å)</text></g>
<g transform="translate(740.72,1161.70) rotate(-90) scale(1.0292,1.0357)" fill="#000" ><path transform="translate(0.00,0)" d="M8.58,-26.40 L0.4,-9.90 L8.58,6.60" fill="none" stroke="#000" stroke-width="1.32"/><text x="10.68" y="0.00" style="white-space:pre;font-family:'Liberation Serif',serif;font-style:italic;font-weight:normal;font-size:33.00px;font-kerning:none">v</text><text x="26.83" y="0.00" style="white-space:pre;font-family:'Liberation Serif',serif;font-style:normal;font-weight:normal;font-size:33.00px;font-kerning:none">(</text><text x="38.32" y="0.00" style="white-space:pre;font-family:'Liberation Serif',serif;font-style:italic;font-weight:normal;font-size:33.00px;font-kerning:none">t</text><text x="47.98" y="0.00" style="white-space:pre;font-family:'Liberation Serif',serif;font-style:normal;font-weight:normal;font-size:33.00px;font-kerning:none">)</text><path transform="translate(60.47,0)" d="M0.4,-26.40 L8.58,-9.90 L0.4,6.60" fill="none" stroke="#000" stroke-width="1.32"/><text x="70.65" y="10.89" style="white-space:pre;font-family:'Liberation Serif',serif;font-style:italic;font-weight:normal;font-size:26.40px;font-kerning:none">L</text><text x="87.34" y="0.00" style="white-space:pre;font-family:'Liberation Sans',sans-serif;font-style:normal;font-weight:normal;font-size:33.00px;font-kerning:none"> (Å/ps)</text></g>
<g transform="translate(1018.88,896.60)" fill="#000" ><text x="0.00" y="0.00" style="white-space:pre;font-family:'Liberation Serif',serif;font-style:normal;font-weight:normal;font-size:39.67px;font-kerning:none">μ</text><text x="19.97" y="0.00" style="white-space:pre;font-family:'Liberation Sans',sans-serif;font-style:normal;font-weight:normal;font-size:34.50px;font-kerning:none"> =3.29x10</text><text x="171.48" y="-17.50" style="white-space:pre;font-family:'Liberation Sans',sans-serif;font-style:normal;font-weight:normal;font-size:27.60px;font-kerning:none">−4</text><text x="202.94" y="0.00" style="white-space:pre;font-family:'Liberation Sans',sans-serif;font-style:normal;font-weight:normal;font-size:34.50px;font-kerning:none"> cm</text><text x="258.52" y="-17.50" style="white-space:pre;font-family:'Liberation Sans',sans-serif;font-style:normal;font-weight:normal;font-size:27.60px;font-kerning:none">2</text><text x="273.87" y="0.00" style="white-space:pre;font-family:'Liberation Sans',sans-serif;font-style:normal;font-weight:normal;font-size:34.50px;font-kerning:none">/V.s</text></g>
</svg></body></html>
